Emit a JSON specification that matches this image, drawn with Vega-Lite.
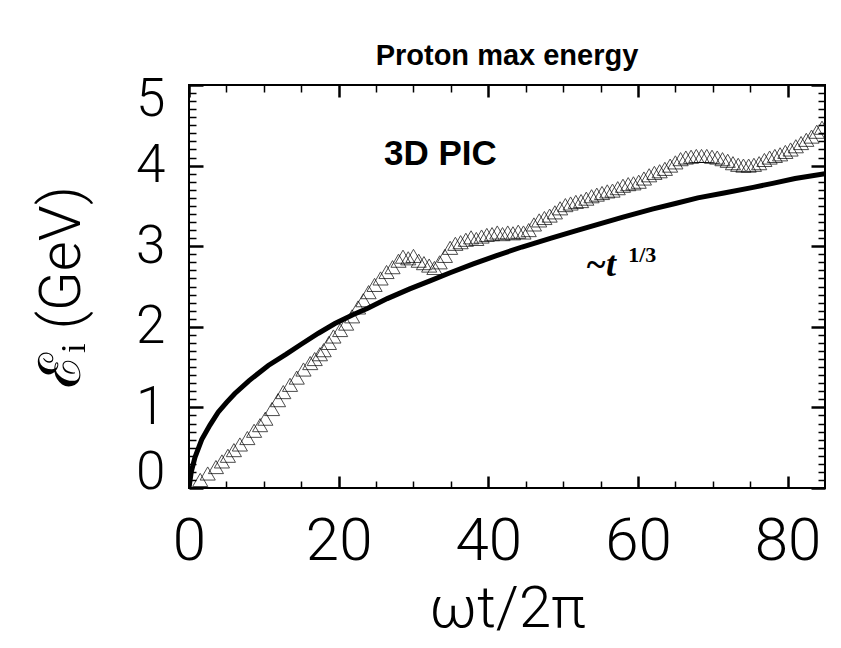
{
  "$schema": "https://vega.github.io/schema/vega-lite/v6.json",
  "width": 636,
  "height": 403,
  "autosize": "none",
  "padding": {"left": 189, "top": 85, "right": 16, "bottom": 160},
  "background": "white",
  "title": {"text": "Proton max energy", "font": "Liberation Sans", "fontWeight": "bold", "fontSize": 29, "anchor": "middle", "color": "black", "offset": 2},
  "config": {
    "view": {"stroke": "black", "strokeWidth": 2},
    "axis": {"domain": false, "grid": false, "labelOverlap": false, "labelColor": "black", "titleColor": "black", "tickColor": "black"}
  },
  "datasets": {
    "curve": [
      {"t": 0, "E": 0}, {"t": 0.3, "E": 0.2}, {"t": 0.8, "E": 0.38}, {"t": 1.7, "E": 0.6}, {"t": 2.8, "E": 0.78},
      {"t": 3.9, "E": 0.94}, {"t": 5, "E": 1.06}, {"t": 6.1, "E": 1.17}, {"t": 8, "E": 1.33}, {"t": 10.6, "E": 1.52},
      {"t": 13, "E": 1.66}, {"t": 15.1, "E": 1.79}, {"t": 17.3, "E": 1.92}, {"t": 19.5, "E": 2.04}, {"t": 21.9, "E": 2.15},
      {"t": 23.9, "E": 2.23}, {"t": 26.5, "E": 2.35}, {"t": 29.5, "E": 2.47}, {"t": 32.2, "E": 2.57}, {"t": 34.9, "E": 2.67},
      {"t": 38, "E": 2.78}, {"t": 41, "E": 2.88}, {"t": 44.5, "E": 2.99}, {"t": 48.4, "E": 3.1}, {"t": 52, "E": 3.2},
      {"t": 55, "E": 3.28}, {"t": 58, "E": 3.36}, {"t": 61.9, "E": 3.46}, {"t": 65, "E": 3.53}, {"t": 68, "E": 3.6},
      {"t": 71.5, "E": 3.66}, {"t": 75.4, "E": 3.73}, {"t": 78, "E": 3.78}, {"t": 81, "E": 3.84}, {"t": 85, "E": 3.9}
    ],
    "pic": [
      {"t": 1.5, "E": 0.1}, {"t": 2.5, "E": 0.18}, {"t": 3.6, "E": 0.26}, {"t": 4.4, "E": 0.33}, {"t": 5.2, "E": 0.4},
      {"t": 6.0, "E": 0.47}, {"t": 6.8, "E": 0.54}, {"t": 7.8, "E": 0.62}, {"t": 8.7, "E": 0.71}, {"t": 9.5, "E": 0.78},
      {"t": 10.2, "E": 0.86}, {"t": 11.1, "E": 0.98}, {"t": 11.9, "E": 1.09}, {"t": 12.6, "E": 1.19}, {"t": 13.5, "E": 1.28},
      {"t": 14.4, "E": 1.37}, {"t": 15.3, "E": 1.47}, {"t": 16.2, "E": 1.55}, {"t": 16.8, "E": 1.6}, {"t": 17.5, "E": 1.66},
      {"t": 18.0, "E": 1.71}, {"t": 18.7, "E": 1.8}, {"t": 19.3, "E": 1.88}, {"t": 20.2, "E": 1.96}, {"t": 21.0, "E": 2.04},
      {"t": 21.8, "E": 2.13}, {"t": 22.6, "E": 2.24}, {"t": 23.3, "E": 2.33}, {"t": 24.0, "E": 2.43}, {"t": 24.8, "E": 2.52},
      {"t": 25.6, "E": 2.6}, {"t": 26.4, "E": 2.68}, {"t": 27.2, "E": 2.74}, {"t": 28.0, "E": 2.82}, {"t": 28.6, "E": 2.87},
      {"t": 29.3, "E": 2.85}, {"t": 30.0, "E": 2.88}, {"t": 30.7, "E": 2.82}, {"t": 31.4, "E": 2.79}, {"t": 32.1, "E": 2.76},
      {"t": 32.8, "E": 2.73}, {"t": 33.5, "E": 2.8}, {"t": 34.2, "E": 2.88}, {"t": 34.9, "E": 2.98}, {"t": 35.6, "E": 3.03},
      {"t": 36.3, "E": 3.05}, {"t": 37.0, "E": 3.08}, {"t": 37.7, "E": 3.11}, {"t": 38.4, "E": 3.09}, {"t": 39.1, "E": 3.12},
      {"t": 39.8, "E": 3.14}, {"t": 40.5, "E": 3.15}, {"t": 41.2, "E": 3.17}, {"t": 41.9, "E": 3.15}, {"t": 42.6, "E": 3.17},
      {"t": 43.3, "E": 3.16}, {"t": 44.0, "E": 3.18}, {"t": 44.7, "E": 3.17}, {"t": 45.4, "E": 3.2}, {"t": 46.1, "E": 3.27},
      {"t": 46.8, "E": 3.32}, {"t": 47.5, "E": 3.35}, {"t": 48.2, "E": 3.38}, {"t": 48.9, "E": 3.42}, {"t": 49.6, "E": 3.47},
      {"t": 50.3, "E": 3.51}, {"t": 51.0, "E": 3.53}, {"t": 51.7, "E": 3.55}, {"t": 52.4, "E": 3.56}, {"t": 53.1, "E": 3.59},
      {"t": 53.8, "E": 3.62}, {"t": 54.5, "E": 3.64}, {"t": 55.2, "E": 3.66}, {"t": 55.9, "E": 3.68}, {"t": 56.6, "E": 3.69},
      {"t": 57.3, "E": 3.72}, {"t": 58.0, "E": 3.75}, {"t": 58.7, "E": 3.77}, {"t": 59.4, "E": 3.78}, {"t": 60.1, "E": 3.8},
      {"t": 60.8, "E": 3.84}, {"t": 61.5, "E": 3.88}, {"t": 62.2, "E": 3.91}, {"t": 62.9, "E": 3.93}, {"t": 63.6, "E": 3.96},
      {"t": 64.3, "E": 4.0}, {"t": 65.0, "E": 4.04}, {"t": 65.7, "E": 4.08}, {"t": 66.4, "E": 4.1}, {"t": 67.1, "E": 4.11},
      {"t": 67.8, "E": 4.12}, {"t": 68.5, "E": 4.12}, {"t": 69.2, "E": 4.12}, {"t": 69.9, "E": 4.11}, {"t": 70.6, "E": 4.1},
      {"t": 71.3, "E": 4.08}, {"t": 72.0, "E": 4.06}, {"t": 72.7, "E": 4.03}, {"t": 73.4, "E": 4.01}, {"t": 74.1, "E": 4.0},
      {"t": 74.8, "E": 4.0}, {"t": 75.5, "E": 4.01}, {"t": 76.2, "E": 4.03}, {"t": 76.9, "E": 4.07}, {"t": 77.6, "E": 4.1},
      {"t": 78.3, "E": 4.12}, {"t": 79.0, "E": 4.14}, {"t": 79.7, "E": 4.17}, {"t": 80.4, "E": 4.2}, {"t": 81.1, "E": 4.24},
      {"t": 81.8, "E": 4.28}, {"t": 82.5, "E": 4.32}, {"t": 83.2, "E": 4.36}, {"t": 83.9, "E": 4.42}, {"t": 84.6, "E": 4.47}
    ]
  },
  "resolve": {"axis": {"x": "independent", "y": "independent"}},
  "layer": [
    {
      "data": {"name": "pic"},
      "mark": {"type": "point", "shape": "triangle-up", "filled": false, "stroke": "black", "strokeWidth": 1, "size": 230, "clip": true},
      "encoding": {
        "x": {"field": "t", "type": "quantitative", "scale": {"domain": [0, 85], "nice": false},
          "axis": {"orient": "top", "title": null, "labels": false, "values": [0,5,10,15,20,25,30,35,40,45,50,55,60,65,70,75,80],
            "tickSize": {"condition": {"test": "datum.value % 20 === 0", "value": -12}, "value": -7},
            "tickWidth": {"condition": {"test": "datum.value % 20 === 0", "value": 2.5}, "value": 1.5}}},
        "y": {"field": "E", "type": "quantitative", "scale": {"domain": [0, 5], "nice": false},
          "axis": {"orient": "left", "title": null, "labels": false,
            "values": [0.1,0.2,0.3,0.4,0.5,0.6,0.7,0.8,0.9,1.1,1.2,1.3,1.4,1.5,1.6,1.7,1.8,1.9,2.1,2.2,2.3,2.4,2.5,2.6,2.7,2.8,2.9,3.1,3.2,3.3,3.4,3.5,3.6,3.7,3.8,3.9,4.1,4.2,4.3,4.4,4.5,4.6,4.7,4.8,4.9],
            "tickSize": -7, "tickWidth": 1.5}}
      }
    },
    {
      "data": {"name": "curve"},
      "mark": {"type": "line", "color": "black", "strokeWidth": 5, "clip": true},
      "encoding": {
        "x": {"field": "t", "type": "quantitative",
          "axis": {"orient": "bottom", "title": "ωt/2π", "values": [0,5,10,15,20,25,30,35,40,45,50,55,60,65,70,75,80],
            "format": "d", "labelExpr": "datum.value % 20 === 0 ? datum.label : ''", "labelOverlap": false, "labelFlush": false,
            "tickSize": {"condition": {"test": "datum.value % 20 === 0", "value": -12}, "value": -7},
            "tickWidth": {"condition": {"test": "datum.value % 20 === 0", "value": 2.5}, "value": 1.5},
            "labelFont": "Roboto", "labelFontWeight": 300, "labelFontSize": 60, "labelPadding": 36,
            "titleFont": "Roboto", "titleFontWeight": 300, "titleFontSize": 58, "titlePadding": 4}},
        "y": {"field": "E", "type": "quantitative",
          "axis": {"orient": "left", "title": "ℰᵢ (GeV)", "values": [0, 1, 2, 3, 4, 5],
            "format": "d", "labelFlush": false, "labelOverlap": false,
            "labelBaseline": {"condition": [{"test": "datum.value === 0", "value": "alphabetic"}, {"test": "datum.value === 5", "value": "top"}], "value": "middle"},
            "labelOffset": {"condition": {"test": "datum.value === 5", "value": -12}, "value": 0},
            "tickSize": -14, "tickWidth": 2.5,
            "labelFont": "Roboto", "labelFontWeight": 300, "labelFontSize": 53, "labelPadding": 38,
            "titleFont": "Roboto", "titleFontWeight": 300, "titleFontSize": 58, "titlePadding": 44}}
      }
    },
    {
      "data": {"values": [{}]},
      "mark": {"type": "text", "text": "3D PIC", "font": "Liberation Sans", "fontWeight": "bold", "fontSize": 35, "align": "center", "baseline": "alphabetic", "color": "black"},
      "encoding": {"x": {"datum": 33.6, "type": "quantitative", "axis": null},
        "y": {"datum": 4.01, "type": "quantitative",
          "axis": {"orient": "right", "title": null, "labels": false,
            "values": [0,0.1,0.2,0.3,0.4,0.5,0.6,0.7,0.8,0.9,1,1.1,1.2,1.3,1.4,1.5,1.6,1.7,1.8,1.9,2,2.1,2.2,2.3,2.4,2.5,2.6,2.7,2.8,2.9,3,3.1,3.2,3.3,3.4,3.5,3.6,3.7,3.8,3.9,4,4.1,4.2,4.3,4.4,4.5,4.6,4.7,4.8,4.9,5],
            "tickSize": {"condition": {"test": "datum.value % 1 === 0", "value": -14}, "value": -7},
            "tickWidth": {"condition": {"test": "datum.value % 1 === 0", "value": 2.5}, "value": 1.5}}}}
    },
    {
      "data": {"values": [{}]},
      "mark": {"type": "text", "text": "~t", "font": "Liberation Serif", "fontWeight": "bold", "fontStyle": "italic", "fontSize": 36, "align": "left", "baseline": "alphabetic", "color": "black"},
      "encoding": {"x": {"datum": 53.0, "type": "quantitative", "axis": null}, "y": {"datum": 2.63, "type": "quantitative", "axis": null}}
    },
    {
      "data": {"values": [{}]},
      "mark": {"type": "text", "text": "1/3", "font": "Liberation Serif", "fontWeight": "bold", "fontSize": 22, "align": "left", "baseline": "alphabetic", "color": "black"},
      "encoding": {"x": {"datum": 58.7, "type": "quantitative", "axis": null}, "y": {"datum": 2.8, "type": "quantitative", "axis": null}}
    }
  ]
}
